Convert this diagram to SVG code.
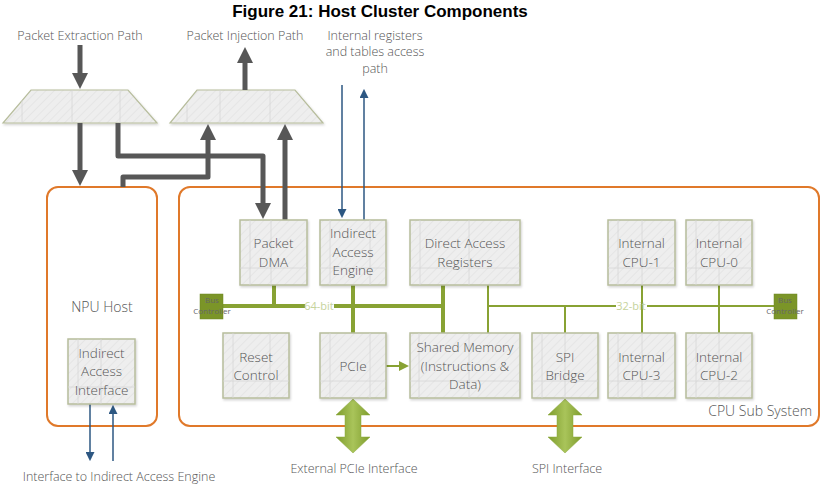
<svg xmlns="http://www.w3.org/2000/svg" width="825" height="485" viewBox="0 0 825 485">
<style>
.t{font-family:"Open Sans","Liberation Sans",sans-serif;fill:#555;font-weight:300;text-anchor:middle}
.lbl{font-size:12.5px}
.bx{font-size:13.5px}
.box{fill:url(#hatch);stroke:#b7bd9c;stroke-width:1.5}
.grid{stroke:#d6d6d6;stroke-width:0.8;fill:none}
.org{fill:#fff;stroke:#e0792a;stroke-width:2}
.gray{stroke:#575757;stroke-width:5;fill:none;stroke-linejoin:round}
.blue{stroke:#2d5782;stroke-width:1.5;fill:none}
.bus64{stroke:#88a233;stroke-width:4;fill:none}
.bus32{stroke:#88a233;stroke-width:2;fill:none}
.bc{fill:#7b9528;stroke:#6d8622;stroke-width:0.5}
.bct{font-family:"Open Sans","Liberation Sans",sans-serif;font-size:8px;fill:#666;text-anchor:middle}
.bit{font-family:"Open Sans","Liberation Sans",sans-serif;font-size:11px;fill:#c6d39c;text-anchor:middle}
.big{fill:url(#gg);stroke:#8aa83a;stroke-width:0.5}
</style>
<defs>
<pattern id="hatch" width="6" height="6" patternUnits="userSpaceOnUse" patternTransform="rotate(45)">
<rect width="6" height="6" fill="#eeeeee"/>
<line x1="0" y1="0" x2="0" y2="6" stroke="#e2e2e2" stroke-width="1.5"/>
</pattern>
<linearGradient id="gg" x1="0" y1="0" x2="1" y2="0">
<stop offset="0" stop-color="#7e9c2c"/>
<stop offset="0.5" stop-color="#a9c45a"/>
<stop offset="1" stop-color="#7e9c2c"/>
</linearGradient>
<marker id="gh" viewBox="0 0 16 16" markerUnits="userSpaceOnUse" markerWidth="16" markerHeight="16" refX="1" refY="8" orient="auto">
<path d="M0,0 L16,8 L0,16 z" fill="#575757"/>
</marker>
<marker id="bh" viewBox="0 0 10 10" markerUnits="userSpaceOnUse" markerWidth="9" markerHeight="9" refX="1" refY="5" orient="auto">
<path d="M0,0 L10,5 L0,10 z" fill="#2d5782"/>
</marker>
<marker id="grh" viewBox="0 0 10 10" markerUnits="userSpaceOnUse" markerWidth="10" markerHeight="10" refX="1" refY="5" orient="auto">
<path d="M0,0 L10,5 L0,10 z" fill="#88a233"/>
</marker>
<filter id="sh" x="-10%" y="-10%" width="130%" height="130%">
<feDropShadow dx="1" dy="1.5" stdDeviation="1" flood-color="#000" flood-opacity="0.18"/>
</filter>
</defs>

<text x="380" y="17" font-family="Liberation Sans, Arial, sans-serif" font-weight="bold" font-size="17" text-anchor="middle" fill="#000">Figure 21: Host Cluster Components</text>

<g id="labels">
<text class="t lbl" x="80" y="40">Packet Extraction Path</text>
<text class="t lbl" x="245" y="40">Packet Injection Path</text>
<text class="t lbl" x="375" y="40">Internal registers</text>
<text class="t lbl" x="375" y="56">and tables access</text>
<text class="t lbl" x="375" y="73">path</text>
<text class="t lbl" x="119" y="481">Interface to Indirect Access Engine</text>
<text class="t lbl" x="354" y="473">External PCIe Interface</text>
<text class="t lbl" x="567" y="473">SPI Interface</text>
</g>

<g id="mux-extraction">
<path d="M31,90 L128,90 L157,123 L3,123 Z" fill="url(#hatch)" stroke="#b7bd9c" stroke-width="1.2" filter="url(#sh)"/>
<path class="grid" d="M22,100 L22,123 M72,90 L72,123 M120,90 L120,123"/>
</g>
<g id="mux-injection">
<path d="M197,90 L295,90 L323,123 L170,123 Z" fill="url(#hatch)" stroke="#b7bd9c" stroke-width="1.2" filter="url(#sh)"/>
<path class="grid" d="M187,104 L187,123 M220,90 L220,123 M270,90 L270,123"/>
</g>

<g id="npu-host">
<rect class="org" x="47" y="187" width="110" height="239" rx="11"/>
<text class="t" x="102" y="312" font-size="14">NPU Host</text>
</g>
<g id="cpu-sub-system">
<rect class="org" x="179" y="187" width="640" height="239" rx="11"/>
<text class="t" x="812" y="416" font-size="14" style="text-anchor:end">CPU Sub System</text>
</g>

<g id="connectors">
<path class="gray" d="M80,45 L80,74" marker-end="url(#gh)"/>
<path class="gray" d="M245,90 L245,62" marker-end="url(#gh)"/>
<path class="gray" d="M80,123 L80,171" marker-end="url(#gh)"/>
<path class="gray" d="M118,123 L118,156 L263,156 L263,204" marker-end="url(#gh)"/>
<path class="gray" d="M123,187 L123,177 L208,177 L208,139" marker-end="url(#gh)"/>
<path class="gray" d="M285,220 L285,139" marker-end="url(#gh)"/>
<path class="blue" d="M342,85 L342,210" marker-end="url(#bh)"/>
<path class="blue" d="M364,220 L364,97" marker-end="url(#bh)"/>
<path class="blue" d="M90,404 L90,453" marker-end="url(#bh)"/>
<path class="blue" d="M113,461 L113,413" marker-end="url(#bh)"/>
<path class="bus64" d="M223,306 L305,306 M334,306 L443,306"/>
<path class="bus64" d="M274,285 L274,306 M353,285 L353,333 M443,285 L443,333"/>
<path class="bus32" d="M488,285 L488,333 M488,306 L616,306 M647,306 L774,306"/>
<path class="bus32" d="M565,306 L565,333 M642,285 L642,333 M719,285 L719,333"/>
<path class="bus32" d="M386,366 L400,366" marker-end="url(#grh)"/>
<path class="big" d="M353,399 L370,415 L361,415 L361,437 L370,437 L353,453 L336,437 L345,437 L345,415 L336,415 Z"/>
<path class="big" d="M565,399 L582,415 L573,415 L573,437 L582,437 L565,453 L548,437 L557,437 L557,415 L548,415 Z"/>
<text class="bit" x="319" y="310">64-bit</text>
<text class="bit" x="631" y="310">32-bit</text>
</g>

<g id="bus-controller-left">
<rect class="bc" x="200" y="294" width="23" height="25"/>
<text class="bct" x="212" y="303">Bus</text>
<text class="bct" x="212" y="314">Controller</text>
</g>
<g id="bus-controller-right">
<rect class="bc" x="774" y="294" width="23" height="25"/>
<text class="bct" x="785" y="303">Bus</text>
<text class="bct" x="785" y="314">Controller</text>
</g>

<g id="packet-dma">
<rect class="box" x="240" y="220" width="67" height="65" filter="url(#sh)"/>
<path class="grid" d="M250,220 L250,285 M271,220 L271,285 M240,268 L307,268"/>
<text class="t bx" x="273.5" y="248">Packet</text>
<text class="t bx" x="273.5" y="267">DMA</text>
</g>
<g id="indirect-access-engine">
<rect class="box" x="320" y="220" width="66" height="65" filter="url(#sh)"/>
<path class="grid" d="M330,220 L330,285 M370,220 L370,285 M320,268 L386,268"/>
<text class="t bx" x="353" y="238">Indirect</text>
<text class="t bx" x="353" y="257">Access</text>
<text class="t bx" x="353" y="275">Engine</text>
</g>
<g id="direct-access-registers">
<rect class="box" x="410" y="220" width="110" height="65" filter="url(#sh)"/>
<path class="grid" d="M420,220 L420,285 M469,220 L469,285 M410,268 L520,268"/>
<text class="t bx" x="465" y="248">Direct Access</text>
<text class="t bx" x="465" y="267">Registers</text>
</g>
<g id="internal-cpu-1">
<rect class="box" x="608" y="220" width="67" height="65" filter="url(#sh)"/>
<path class="grid" d="M618,220 L618,285 M642,220 L642,285 M608,268 L675,268"/>
<text class="t bx" x="641.5" y="248">Internal</text>
<text class="t bx" x="641.5" y="267">CPU-1</text>
</g>
<g id="internal-cpu-0">
<rect class="box" x="686" y="220" width="66" height="65" filter="url(#sh)"/>
<path class="grid" d="M696,220 L696,285 M719,220 L719,285 M686,268 L752,268"/>
<text class="t bx" x="719" y="248">Internal</text>
<text class="t bx" x="719" y="267">CPU-0</text>
</g>
<g id="reset-control">
<rect class="box" x="223" y="333" width="66" height="65" filter="url(#sh)"/>
<path class="grid" d="M233,333 L233,398 M270,333 L270,398 M223,381 L289,381"/>
<text class="t bx" x="256" y="362">Reset</text>
<text class="t bx" x="256" y="380">Control</text>
</g>
<g id="pcie">
<rect class="box" x="320" y="333" width="66" height="65" filter="url(#sh)"/>
<path class="grid" d="M330,333 L330,398 M370,333 L370,398 M320,381 L386,381"/>
<text class="t bx" x="353" y="371">PCIe</text>
</g>
<g id="shared-memory">
<rect class="box" x="410" y="333" width="110" height="65" filter="url(#sh)"/>
<path class="grid" d="M419,333 L419,398 M469,333 L469,398 M410,381 L520,381"/>
<text class="t bx" x="465" y="352">Shared Memory</text>
<text class="t bx" x="465" y="371">(Instructions &amp;</text>
<text class="t bx" x="465" y="389">Data)</text>
</g>
<g id="spi-bridge">
<rect class="box" x="532" y="333" width="66" height="65" filter="url(#sh)"/>
<path class="grid" d="M542,333 L542,398 M565,333 L565,398 M532,381 L598,381"/>
<text class="t bx" x="565" y="362">SPI</text>
<text class="t bx" x="565" y="380">Bridge</text>
</g>
<g id="internal-cpu-3">
<rect class="box" x="608" y="333" width="67" height="65" filter="url(#sh)"/>
<path class="grid" d="M618,333 L618,398 M642,333 L642,398 M608,381 L675,381"/>
<text class="t bx" x="641.5" y="362">Internal</text>
<text class="t bx" x="641.5" y="380">CPU-3</text>
</g>
<g id="internal-cpu-2">
<rect class="box" x="686" y="333" width="66" height="65" filter="url(#sh)"/>
<path class="grid" d="M696,333 L696,398 M719,333 L719,398 M686,381 L752,381"/>
<text class="t bx" x="719" y="362">Internal</text>
<text class="t bx" x="719" y="380">CPU-2</text>
</g>
<g id="indirect-access-interface">
<rect class="box" x="68" y="339" width="67" height="65" filter="url(#sh)"/>
<path class="grid" d="M78,339 L78,404 M101,339 L101,404 M68,387 L135,387"/>
<text class="t bx" x="101.5" y="358">Indirect</text>
<text class="t bx" x="101.5" y="376">Access</text>
<text class="t bx" x="101.5" y="395">Interface</text>
</g>
</svg>
